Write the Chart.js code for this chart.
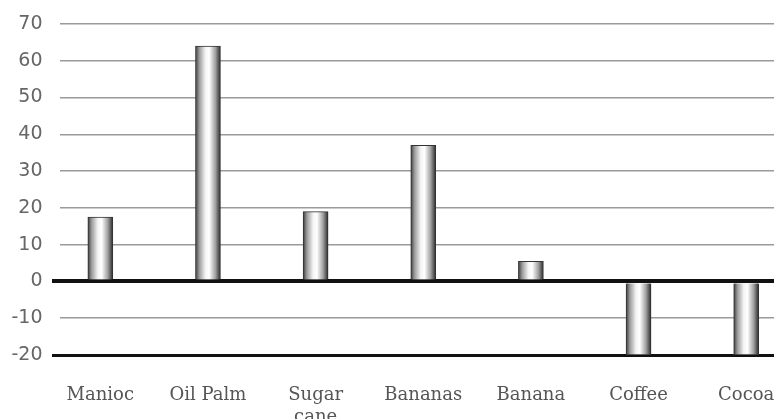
<!DOCTYPE html>
<html>
<head>
<meta charset="utf-8">
<script src="https://cdn.jsdelivr.net/npm/chart.js@4/dist/chart.umd.min.js"></script>
<style>
  html, body { margin: 0; padding: 0; background: #fff; overflow: hidden; }
  .chart-container { width: 800px; height: 419px; }
</style>
</head>
<body>
<div class="chart-container">
  <canvas id="cropChart" width="800" height="419"></canvas>
</div>
<script>
  // values
  const crops = ["Manioc", ["Oil Palm"], ["Sugar", "cane"], "Bananas", "Banana", "Coffee", "Cocoa"];
  const change = [17.5, 64, 19, 37, 5.5, -20, -20];
  const yTicks = [70, 60, 50, 40, 30, 20, 10, 0, -10, -20];

  const BAR_W = 25;

  // cylinder look: dark edges, light middle
  function barFill(ctx) {
    const chart = ctx.chart;
    if (!chart.chartArea) return "#ccc";
    const x = chart.scales.x.getPixelForValue(ctx.dataIndex);
    const g = chart.ctx.createLinearGradient(x - BAR_W / 2, 0, x + BAR_W / 2, 0);
    g.addColorStop(0, "#3a3a3a");
    g.addColorStop(0.15, "#9a9a9a");
    g.addColorStop(0.4, "#f4f4f4");
    g.addColorStop(0.55, "#ffffff");
    g.addColorStop(0.8, "#a0a0a0");
    g.addColorStop(1, "#2a2a2a");
    return g;
  }

  const isAxisLine = v => v === 0 || v === -20;

  // grid lines start a little right of the plot edge, the two heavy ones a bit earlier
  function gridColor(c) {
    const heavy = isAxisLine(c.tick.value);
    const start = heavy ? 52 : 60;
    const col = heavy ? "#111" : "#9a9a9a";
    const g = c.chart.ctx.createLinearGradient(0, 0, 800, 0);
    g.addColorStop(0, "rgba(255,255,255,0)");
    g.addColorStop(start / 800, "rgba(255,255,255,0)");
    g.addColorStop(start / 800, col);
    g.addColorStop(1, col);
    return g;
  }

  new Chart("cropChart", {
    type: "bar",
    data: {
      labels: crops,
      datasets: [{
        data: change,
        backgroundColor: barFill,
        borderColor: "#333",
        borderWidth: 1,
        barThickness: BAR_W
      }]
    },
    options: {
      responsive: false,
      animation: false,
      layout: { padding: { top: 24, right: 0, left: 0, bottom: 0 } },
      plugins: {
        legend: { display: false },
        tooltip: { enabled: false }
      },
      scales: {
        x: {
          grid: { display: false },
          border: { display: false },
          afterFit: s => { s.height = 64; },
          ticks: {
            autoSkip: false,
            maxRotation: 0,
            padding: 22,
            color: "#555",
            font: { family: "DejaVu Serif", size: 18 }
          }
        },
        y: {
          min: -20,
          max: 70,
          afterFit: s => { s.width = 46.5; },
          afterBuildTicks: s => { s.ticks = yTicks.map(v => ({ value: v })); },
          border: { display: false },
          grid: {
            color: gridColor,
            lineWidth: c => c.tick.value === 0 ? 4 : (c.tick.value === -20 ? 3 : 1.5),
            drawTicks: false
          },
          ticks: {
            padding: 4,
            color: "#666",
            font: { family: "DejaVu Sans", size: 19 }
          }
        }
      }
    }
  });
</script>
</body>
</html>
